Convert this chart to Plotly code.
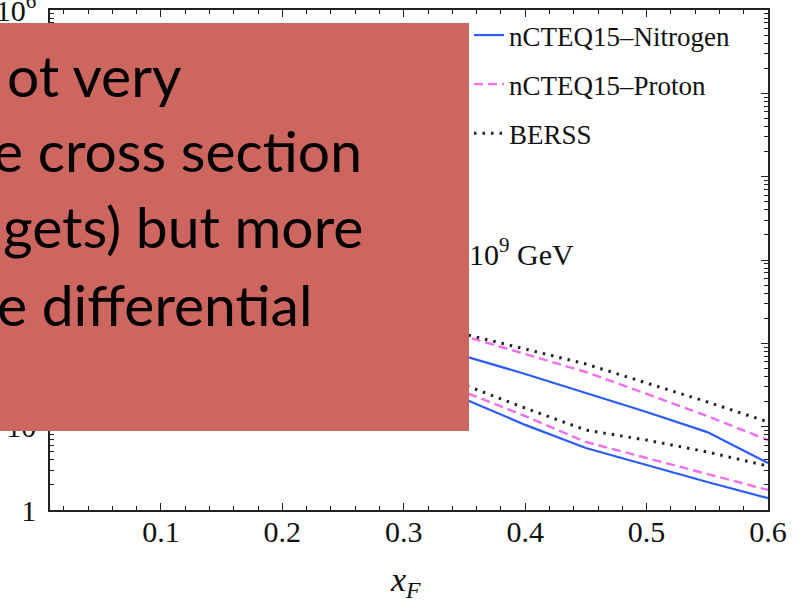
import plotly.graph_objects as go

# Feynman-x grid and differential cross sections (two energy bands each)
xf = [0.01, 0.05, 0.10, 0.15, 0.20, 0.25, 0.30, 0.35, 0.40, 0.45, 0.50, 0.55, 0.60]

nitrogen_hi = [1.3e4, 5.0e3, 2.2e3, 1.0e3, 480, 230, 115, 70.5, 42.9, 25.4, 15.0, 8.6, 3.66]
proton_hi = [2.0e4, 7.4e3, 3.3e3, 1.55e3, 780, 390, 195, 122, 74.5, 45.3, 24.7, 13.4, 6.9]
berss_hi = [2.2e4, 8.0e3, 3.6e3, 1.7e3, 850, 430, 215, 129, 85.5, 56.5, 33.4, 19.8, 11.4]

nitrogen_lo = [3.6e3, 1.35e3, 600, 280, 130, 66, 37, 21.5, 10.5, 5.55, 3.47, 2.17, 1.39]
proton_lo = [5.5e3, 2.0e3, 860, 400, 190, 95, 47, 26.1, 13.4, 6.55, 4.2, 2.7, 1.74]
berss_lo = [6.0e3, 2.2e3, 950, 440, 210, 105, 55, 31.6, 16.7, 9.1, 6.9, 4.97, 3.37]

series_names = ["nCTEQ15\u2013Nitrogen", "nCTEQ15\u2013Proton", "BERSS"]

x_ticks = [0.1, 0.2, 0.3, 0.4, 0.5, 0.6]
x_tick_text = ["0.1", "0.2", "0.3", "0.4", "0.5", "0.6"]
y_ticks = [1, 10, 100, 1e3, 1e4, 1e5, 1e6]
y_tick_text = ["1", "10", "10<sup>2</sup>", "10<sup>3</sup>", "10<sup>4</sup>", "10<sup>5</sup>", "10<sup>6</sup>"]

overlay_lines = ["ot very", "e cross section", "gets) but more", "e differential"]
energy_label = "10<sup>9</sup> GeV"

# page geometry (pixels)
W, H = 806, 601
L, R, T, B = 50, 768, 10, 510


def px(xp):
    return (xp - L) / (R - L)


def py(yp):
    return (B - yp) / (B - T)


styles = [
    dict(color="#2b5cff", width=2.2, dash="solid"),
    dict(color="#ee70ee", width=2.4, dash="9px,5px"),
    dict(color="#222222", width=3.0, dash="2.5px,6px"),
]

fig = go.Figure()
for name, hi, lo, st in zip(series_names,
                            [nitrogen_hi, proton_hi, berss_hi],
                            [nitrogen_lo, proton_lo, berss_lo],
                            styles):
    fig.add_trace(go.Scatter(x=xf, y=hi, mode="lines", name=name, legendgroup=name,
                             line=st, showlegend=True))
    fig.add_trace(go.Scatter(x=xf, y=lo, mode="lines", name=name, legendgroup=name,
                             line=st, showlegend=False))

minor_y = [m * 10 ** k for k in range(0, 6) for m in range(2, 10)]

axis_common = dict(showline=True, linecolor="#222", linewidth=1.6, mirror="allticks",
                   ticks="inside", tickcolor="#222", tickwidth=1.4, ticklen=7,
                   showgrid=False, zeroline=False, automargin=False,
                   ticklabeloverflow="allow",
                   tickfont=dict(family="Liberation Serif", size=30, color="#111"))

fig.update_xaxes(range=[0.0086, 0.6], tickvals=x_ticks, ticktext=x_tick_text,
                 minor=dict(tick0=0, dtick=0.02, ticks="inside", ticklen=4,
                            tickcolor="#222", tickwidth=1.2, showgrid=False),
                 ticklabelstandoff=-6, **axis_common)
fig.update_yaxes(type="log", range=[0, 6], tickvals=y_ticks, ticktext=y_tick_text,
                 minor=dict(tickvals=minor_y, ticks="inside", ticklen=4,
                            tickcolor="#222", tickwidth=1.2, showgrid=False),
                 ticklabelstandoff=6, **axis_common)

annotations = [
    dict(text="<i>x</i><sub><i>F</i></sub>", x=px(405), y=py(605), xref="paper", yref="paper",
         showarrow=False, font=dict(family="Liberation Serif", size=34, color="#111")),
    dict(text=energy_label, x=px(467), y=py(252), xref="paper", yref="paper",
         xanchor="left", showarrow=False,
         font=dict(family="Liberation Serif", size=30, color="#111")),
]

# text on the overlay panel, right-aligned to each line's end
line_right = [183, 364, 365, 314]
line_base = [97, 172, 248, 326]
for txt, xr, yb in zip(overlay_lines, line_right, line_base):
    annotations.append(dict(text=txt, x=px(xr), y=py(yb - 22), xref="paper", yref="paper",
                            xanchor="right", yanchor="middle", showarrow=False,
                            font=dict(family="Lato", size=57, color="#000")))

fig.update_layout(
    width=W, height=H,
    margin=dict(l=L, r=W - R, t=T, b=H - B, pad=0, autoexpand=False),
    paper_bgcolor="white", plot_bgcolor="white",
    showlegend=True,
    legend=dict(x=px(469), y=py(11), xanchor="left", yanchor="top",
                bgcolor="rgba(0,0,0,0)", borderwidth=0,
                font=dict(family="Liberation Serif", size=27, color="#111"),
                tracegroupgap=11, itemwidth=30),
    shapes=[dict(type="rect", xref="paper", yref="paper",
                 x0=px(-2), x1=px(469), y0=py(431), y1=py(23),
                 fillcolor="#cd665f", line=dict(width=0), layer="above")],
    annotations=annotations,
)

fig.write_html("out.html")
